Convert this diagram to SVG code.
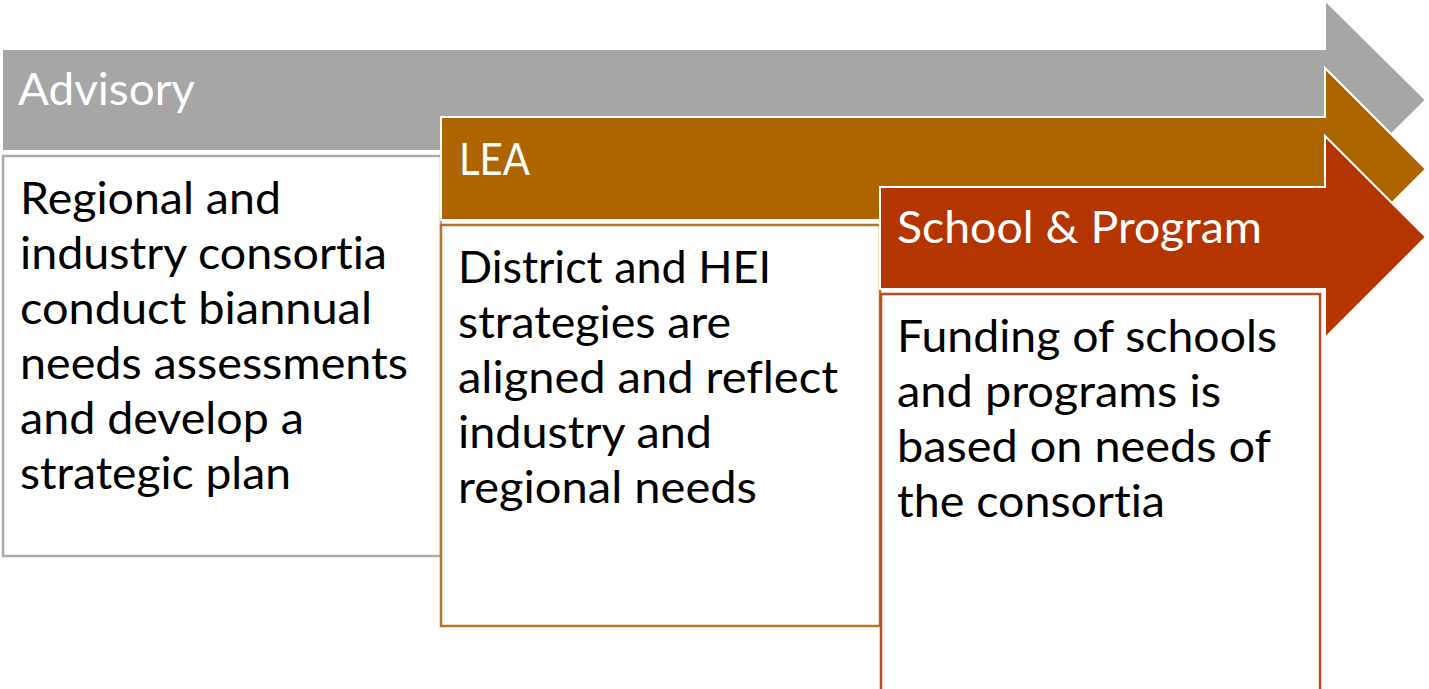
<svg xmlns="http://www.w3.org/2000/svg" width="1429" height="689" viewBox="0 0 1429 689">
<style>
.arrow{stroke:#ffffff;stroke-width:2;stroke-linejoin:miter}
.box{fill:#ffffff;stroke-width:2.5}
text{font-variant-ligatures:none;font-feature-settings:"liga" 0,"dlig" 0}
.head{font-family:Lato,"Open Sans","Liberation Sans",sans-serif;font-size:45px;fill:#ffffff}
.body{font-family:Lato,"Open Sans","Liberation Sans",sans-serif;font-size:45px;fill:#000000}
</style>
<rect width="1429" height="689" fill="#ffffff"/>
<g id="advisory">
<path class="arrow" fill="#A6A6A6" d="M2,49 H1325 V0 L1426,100 L1325,200 V151 H2 Z"/>
<text class="head" x="18" y="105" textLength="177" lengthAdjust="spacingAndGlyphs">Advisory</text>
</g>
<g id="advisory-box">
<rect class="box" stroke="#ABABAB" x="3" y="156" width="438" height="400"/>
<text class="body" x="20" y="214" textLength="261" lengthAdjust="spacingAndGlyphs">Regional and</text>
<text class="body" x="20" y="269" textLength="367" lengthAdjust="spacingAndGlyphs">industry consortia</text>
<text class="body" x="20" y="324" textLength="352" lengthAdjust="spacingAndGlyphs">conduct biannual</text>
<text class="body" x="20" y="379" textLength="388" lengthAdjust="spacingAndGlyphs">needs assessments</text>
<text class="body" x="20" y="434" textLength="284" lengthAdjust="spacingAndGlyphs">and develop a</text>
<text class="body" x="20" y="489" textLength="271" lengthAdjust="spacingAndGlyphs">strategic plan</text>
</g>
<g id="lea">
<path class="arrow" fill="#AD6500" d="M441,117 H1325 V68 L1426,169 L1325,270 V220 H441 Z"/>
<text class="head" x="459" y="175" textLength="71" lengthAdjust="spacingAndGlyphs">LEA</text>
</g>
<g id="lea-box">
<rect class="box" stroke="#B5742A" x="441" y="225" width="439" height="401"/>
<text class="body" x="458" y="283" textLength="313" lengthAdjust="spacingAndGlyphs">District and HEI</text>
<text class="body" x="458" y="338" textLength="273" lengthAdjust="spacingAndGlyphs">strategies are</text>
<text class="body" x="458" y="393" textLength="380" lengthAdjust="spacingAndGlyphs">aligned and reflect</text>
<text class="body" x="458" y="448" textLength="254" lengthAdjust="spacingAndGlyphs">industry and</text>
<text class="body" x="458" y="503" textLength="299" lengthAdjust="spacingAndGlyphs">regional needs</text>
</g>
<g id="school">
<path class="arrow" fill="#B43500" d="M880,187 H1325 V136 L1426,237 L1325,338 V289 H880 Z"/>
<text class="head" x="897" y="243" textLength="365" lengthAdjust="spacingAndGlyphs">School &amp; Program</text>
</g>
<g id="school-box">
<rect class="box" stroke="#BF4A1E" x="881" y="294" width="439" height="400"/>
<text class="body" x="897" y="352" textLength="380" lengthAdjust="spacingAndGlyphs">Funding of schools</text>
<text class="body" x="897" y="407" textLength="324" lengthAdjust="spacingAndGlyphs">and programs is</text>
<text class="body" x="897" y="462" textLength="374" lengthAdjust="spacingAndGlyphs">based on needs of</text>
<text class="body" x="897" y="517" textLength="268" lengthAdjust="spacingAndGlyphs">the consortia</text>
</g>
</svg>
